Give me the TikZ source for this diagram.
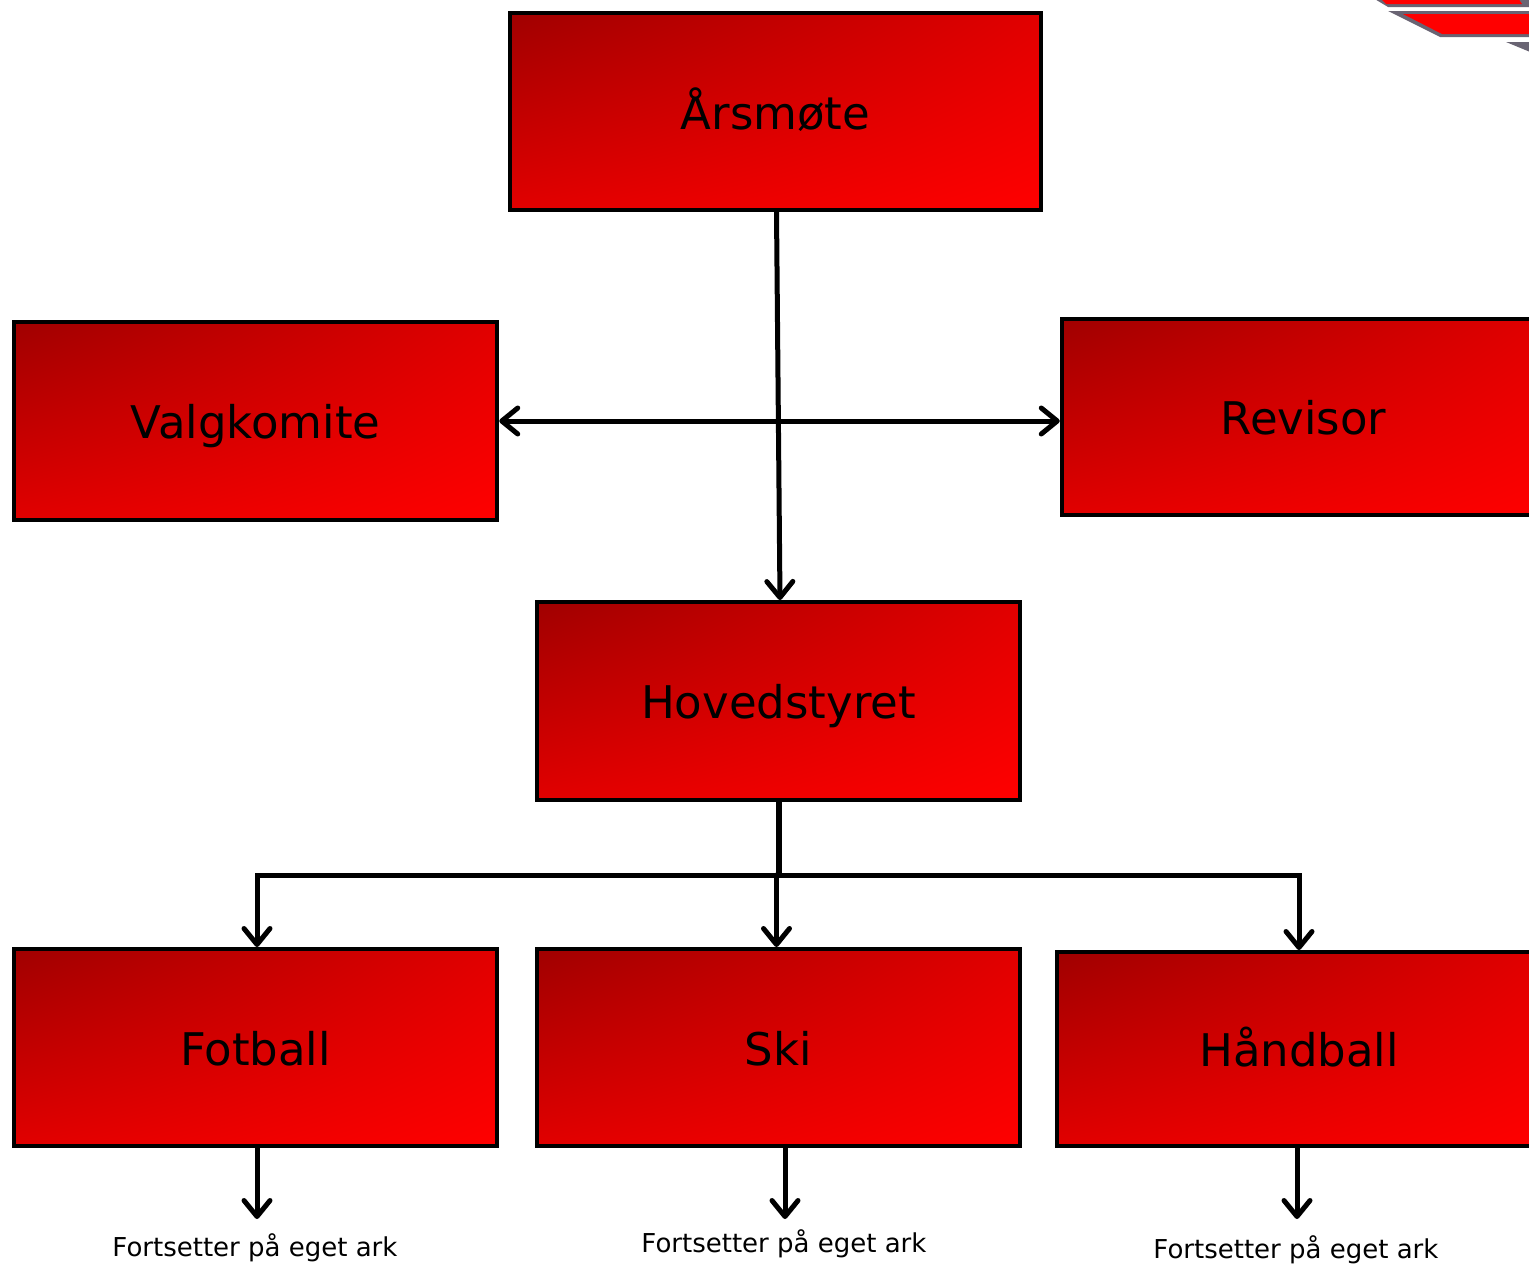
\documentclass[tikz,border=0pt]{standalone}
\usepackage{fontspec}
\setmainfont{DejaVu Sans}
\usetikzlibrary{arrows.meta,shadings}
\definecolor{darkred}{RGB}{160,0,0}
\definecolor{midred}{RGB}{225,0,0}
\definecolor{logogray}{RGB}{105,100,115}
\tikzset{
  x=1pt,y=-1pt,
  orgbox/.style={draw=black,line width=4.5pt,rectangle,inner sep=0pt,
    upper left=darkred,upper right=midred,lower left=midred,lower right=red,
    font=\fontsize{45}{50}\selectfont,text height=35pt,text depth=0pt},
  link/.style={draw=black,line width=5pt,line cap=round,line join=miter},
  tip/.style={-{Straight Barb[length=16pt,width=26pt,line width=5pt,round]}},
  bitip/.style={{Straight Barb[length=16pt,width=26pt,line width=5pt,round]}-{Straight Barb[length=16pt,width=26pt,line width=5pt,round]}},
  note/.style={font=\fontsize{26}{30}\selectfont,inner sep=0pt},
}
\begin{document}
\begin{tikzpicture}
\useasboundingbox (0,0) rectangle (1529,1264);
\clip (0,0) rectangle (1529,1264);
\fill[white] (0,0) rectangle (1529,1264);
% logo fragment
\fill[logogray] (1373,-2) -- (1388,7) -- (1535,7) -- (1535,-2) -- cycle;
\fill[red] (1380,-2) -- (1386,4) -- (1522,4) -- (1518,-2) -- cycle;
\fill[logogray] (1388,11) -- (1440,37) -- (1535,37) -- (1535,11) -- cycle;
\fill[red] (1403,14) -- (1442,34) -- (1535,34) -- (1535,14) -- cycle;
\fill[logogray] (1506,42) -- (1535,42) -- (1535,54) -- cycle;
% boxes
\node[orgbox,minimum width=531pt,minimum height=197pt] (arsmote) at (775.5,111.5) {Årsmøte};
\node[orgbox,minimum width=483pt,minimum height=198pt] (valg) at (255.5,421) {Valgkomite};
\node[orgbox,minimum width=483pt,minimum height=196pt] (rev) at (1303.5,417) {Revisor};
\node[orgbox,minimum width=483pt,minimum height=198pt] (hoved) at (778.5,701) {Hovedstyret};
\node[orgbox,minimum width=483pt,minimum height=197pt] (fot) at (255.5,1047.5) {Fotball};
\node[orgbox,minimum width=483pt,minimum height=197pt] (ski) at (778.5,1047.5) {Ski};
\node[orgbox,minimum width=484pt,minimum height=194pt] (hand) at (1299,1049) {Håndball};
% notes
\node[note] (nf) at (255,1248) {Fortsetter på eget ark};
\node[note] (ns) at (784,1244) {Fortsetter på eget ark};
\node[note] (nh) at (1296,1250) {Fortsetter på eget ark};
% helper points
\coordinate (busm) at (779,875);
\coordinate (busl) at (257,875);
\coordinate (busr) at (1299,875);
\coordinate (busm2) at (776.5,875);
\coordinate (fotin) at (257,947);
\coordinate (skiin) at (776.5,947);
\coordinate (handin) at (1299,950);
\coordinate (hovin) at (780,600);
\coordinate (armout) at (776.5,212);
\coordinate (hovout) at (779,802);
\coordinate (fotout) at (257,1148);
\coordinate (skiout) at (785,1148);
\coordinate (handout) at (1297,1148);
\coordinate (nfin) at (257,1219);
\coordinate (nsin) at (785,1219);
\coordinate (nhin) at (1297,1219);
% connectors
\draw[link,tip] (armout) -- (hovin);
\draw[link,bitip] (valg.east) -- (rev.west |- valg.east);
\draw[link,line width=6pt,line cap=butt] (hovout) -- (busm);
\draw[link,tip] (busm) -- (busl) -- (fotin);
\draw[link,tip] (busm) -- (busr) -- (handin);
\draw[link,tip] (busm2) -- (skiin);
\draw[link,tip] (fotout) -- (nfin);
\draw[link,tip] (skiout) -- (nsin);
\draw[link,tip] (handout) -- (nhin);
\end{tikzpicture}
\end{document}
